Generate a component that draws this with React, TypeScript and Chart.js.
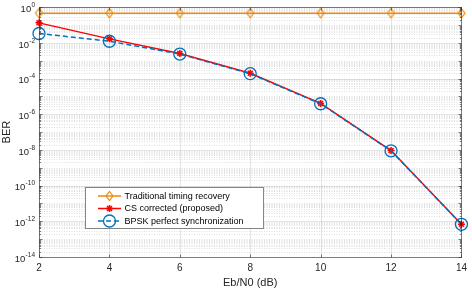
import React, { useEffect, useRef } from "react";
import { Chart, registerables } from "chart.js";

Chart.register(...registerables);

// ---- data ----
const ebn0 = [2, 4, 6, 8, 10, 12, 14];
const traditional = [0.47, 0.47, 0.47, 0.47, 0.47, 0.47, 0.47];
const csCorrected = [0.134, 0.017, 0.0026, 2.0e-4, 4.1e-6, 9.3e-9, 6.9e-13];
const bpskPerfect = [0.034, 0.0125, 0.0024, 1.9e-4, 3.9e-6, 9.0e-9, 6.8e-13];
const xTickValues = [2, 4, 6, 8, 10, 12, 14];
const yLabelExponents = [0, -2, -4, -6, -8, -10, -12, -14];
const seriesLabels = [
  "Traditional timing recovery",
  "CS corrected (proposed)",
  "BPSK perfect synchronization",
];
const markerKinds = ["diamond", "star", "circle"];

const ORANGE = "#EE8A0A";
const RED = "#FF0000";
const BLUE = "#0072BD";
const TEXT = "#262626";
const FONT = '"Liberation Sans", Arial, sans-serif';

const pow10 = (e: number) => Number(`1e${e}`);

function drawMarker(ctx: CanvasRenderingContext2D, kind: string, x: number, y: number, color: string) {
  ctx.save();
  ctx.strokeStyle = color;
  ctx.setLineDash([]);
  ctx.beginPath();
  if (kind === "diamond") {
    ctx.lineWidth = 1.2;
    ctx.moveTo(x, y - 4.5);
    ctx.lineTo(x + 3.5, y);
    ctx.lineTo(x, y + 4.5);
    ctx.lineTo(x - 3.5, y);
    ctx.closePath();
  } else if (kind === "star") {
    ctx.lineWidth = 1.5;
    const r = 3.5;
    for (let k = 0; k < 4; k++) {
      const a = (k * Math.PI) / 4;
      ctx.moveTo(x - Math.cos(a) * r, y - Math.sin(a) * r);
      ctx.lineTo(x + Math.cos(a) * r, y + Math.sin(a) * r);
    }
  } else {
    ctx.lineWidth = 1.3;
    ctx.arc(x, y, 6, 0, Math.PI * 2);
  }
  ctx.stroke();
  ctx.restore();
}

function makeDiamond(color: string): HTMLCanvasElement {
  const c = document.createElement("canvas");
  c.width = 11;
  c.height = 13;
  const g = c.getContext("2d") as CanvasRenderingContext2D;
  drawMarker(g, "diamond", 5.5, 6.5, color);
  return c;
}

const matlabPlugin = {
  id: "matlabDecor",
  beforeDraw(chart: any) {
    const { ctx } = chart;
    ctx.save();
    ctx.fillStyle = "#ffffff";
    ctx.fillRect(0, 0, chart.width, chart.height);
    ctx.restore();
  },
  beforeDatasetsDraw(chart: any) {
    const { ctx, chartArea, scales } = chart;
    const { left, right, top, bottom } = chartArea;
    const x = scales.x;
    const y = scales.y;
    ctx.save();
    ctx.beginPath();
    ctx.rect(left, top, right - left, bottom - top);
    ctx.clip();
    // minor y grid (dotted)
    ctx.lineWidth = 1;
    ctx.strokeStyle = "rgba(38,38,38,0.14)";
    ctx.setLineDash([1, 1.5]);
    for (let e = -14; e < 0; e++) {
      for (let m = 1; m <= 9; m++) {
        if (m === 1 && e % 2 === 0) continue;
        const py = Math.round(y.getPixelForValue(m * pow10(e))) + 0.5;
        ctx.beginPath();
        ctx.moveTo(left, py);
        ctx.lineTo(right, py);
        ctx.stroke();
      }
    }
    // major grid (solid)
    ctx.setLineDash([]);
    ctx.strokeStyle = "rgba(38,38,38,0.12)";
    for (const e of yLabelExponents) {
      const py = Math.round(y.getPixelForValue(pow10(e))) + 0.5;
      ctx.beginPath();
      ctx.moveTo(left, py);
      ctx.lineTo(right, py);
      ctx.stroke();
    }
    for (const v of xTickValues) {
      const px = Math.round(x.getPixelForValue(v)) + 0.5;
      ctx.beginPath();
      ctx.moveTo(px, top);
      ctx.lineTo(px, bottom);
      ctx.stroke();
    }
    ctx.restore();
  },
  afterDatasetsDraw(chart: any) {
    const { ctx, chartArea, scales } = chart;
    const { left, right, top, bottom } = chartArea;
    const x = scales.x;
    const y = scales.y;
    ctx.save();
    // frame
    ctx.strokeStyle = "rgba(38,38,38,0.6)";
    ctx.lineWidth = 1;
    ctx.setLineDash([]);
    const L = Math.round(left) + 0.5;
    const R = Math.round(right) + 0.5;
    const T = Math.round(top) + 0.5;
    const B = Math.round(bottom) + 0.5;
    ctx.strokeRect(L, T, R - L, B - T);
    // inward ticks
    ctx.beginPath();
    for (const v of xTickValues) {
      const px = Math.round(x.getPixelForValue(v)) + 0.5;
      ctx.moveTo(px, B);
      ctx.lineTo(px, B - 3);
      ctx.moveTo(px, T);
      ctx.lineTo(px, T + 3);
    }
    for (let e = -14; e <= 0; e++) {
      for (let m = 1; m <= 9; m++) {
        const v = m * pow10(e);
        if (v > 1) break;
        const py = Math.round(y.getPixelForValue(v)) + 0.5;
        const len = m === 1 ? 3 : 1.5;
        ctx.moveTo(L, py);
        ctx.lineTo(L + len, py);
        ctx.moveTo(R, py);
        ctx.lineTo(R - len, py);
      }
    }
    ctx.stroke();
    // y tick labels 10^e
    ctx.fillStyle = TEXT;
    ctx.textBaseline = "middle";
    for (const e of yLabelExponents) {
      const py = y.getPixelForValue(pow10(e));
      const expText = String(e);
      ctx.font = `6.5px ${FONT}`;
      const we = ctx.measureText(expText).width;
      const ex = 35 - we;
      ctx.textAlign = "left";
      ctx.fillText(expText, ex, py - 2);
      ctx.font = `9.5px ${FONT}`;
      ctx.textAlign = "right";
      ctx.fillText("10", ex - 0.2, py + 2);
    }
    // legend
    const bx = 85.5, by = 187.5, bw = 178, bh = 41;
    ctx.fillStyle = "#ffffff";
    ctx.fillRect(bx, by, bw, bh);
    ctx.strokeStyle = "rgba(38,38,38,0.55)";
    ctx.lineWidth = 1;
    ctx.strokeRect(bx, by, bw, bh);
    const ds = chart.data.datasets;
    const rows = [196, 208.5, 221];
    ctx.font = `9px ${FONT}`;
    ctx.textAlign = "left";
    ctx.textBaseline = "middle";
    ds.forEach((d: any, i: number) => {
      const ry = rows[i];
      ctx.save();
      ctx.strokeStyle = d.borderColor;
      ctx.lineWidth = d.borderWidth;
      ctx.setLineDash(d.borderDash || []);
      ctx.beginPath();
      ctx.moveTo(98, ry);
      ctx.lineTo(121, ry);
      ctx.stroke();
      ctx.restore();
      drawMarker(ctx, markerKinds[i], 109.5, ry, d.borderColor);
      ctx.fillStyle = "#000000";
      ctx.fillText(d.label, 124.5, ry + 0.5);
    });
    ctx.restore();
  },
};

export default function App() {
  const canvasRef = useRef<HTMLCanvasElement | null>(null);

  useEffect(() => {
    document.body.style.margin = "0";
    const canvas = canvasRef.current;
    if (!canvas) return;
    const toPts = (arr: number[]) => ebn0.map((xv, i) => ({ x: xv, y: arr[i] }));
    const chart = new Chart(canvas, {
      type: "line",
      data: {
        datasets: [
          {
            label: seriesLabels[0],
            data: toPts(traditional),
            borderColor: ORANGE,
            backgroundColor: "rgba(0,0,0,0)",
            borderWidth: 1.5,
            pointStyle: makeDiamond(ORANGE),
            pointRadius: 5,
            clip: false,
            order: 2,
          },
          {
            label: seriesLabels[1],
            data: toPts(csCorrected),
            borderColor: RED,
            backgroundColor: "rgba(0,0,0,0)",
            borderWidth: 1.5,
            pointStyle: "star",
            pointRadius: 3.5,
            pointBorderColor: RED,
            pointBackgroundColor: RED,
            pointBorderWidth: 1.5,
            clip: false,
            order: 1,
          },
          {
            label: seriesLabels[2],
            data: toPts(bpskPerfect),
            borderColor: BLUE,
            backgroundColor: "rgba(0,0,0,0)",
            borderWidth: 1.5,
            borderDash: [5, 3],
            pointStyle: "circle",
            pointRadius: 6,
            pointBorderColor: BLUE,
            pointBackgroundColor: "rgba(0,0,0,0)",
            pointBorderWidth: 1.3,
            clip: false,
            order: 0,
          },
        ] as any,
      },
      options: {
        responsive: false,
        animation: false,
        events: [],
        layout: { padding: { left: 0, right: 7, top: 5, bottom: 0 } },
        plugins: {
          legend: { display: false },
          tooltip: { enabled: false },
        },
        scales: {
          x: {
            type: "linear",
            min: 2,
            max: 14,
            afterBuildTicks: (s: any) => {
              s.ticks = xTickValues.map((v) => ({ value: v }));
            },
            ticks: {
              color: TEXT,
              font: { family: FONT, size: 10 },
              padding: 5,
              maxRotation: 0,
            },
            grid: { display: false, drawTicks: false },
            border: { display: false },
            title: {
              display: true,
              text: "Eb/N0 (dB)",
              color: TEXT,
              font: { family: FONT, size: 11 },
              padding: { top: 0, bottom: -2 },
            },
            afterFit: (s: any) => {
              s.height = 31;
            },
          },
          y: {
            type: "logarithmic",
            min: 1e-14,
            max: 1,
            ticks: { display: false },
            grid: { display: false, drawTicks: false },
            border: { display: false },
            title: {
              display: true,
              text: "BER",
              color: TEXT,
              font: { family: FONT, size: 11 },
              padding: { top: 0, bottom: 0 },
            },
            afterFit: (s: any) => {
              s.width = 39;
            },
          },
        },
      } as any,
      plugins: [matlabPlugin],
    });
    return () => chart.destroy();
  }, []);

  return (
    <div style={{ width: 472, height: 288 }}>
      <canvas ref={canvasRef} width={472} height={288} style={{ display: "block" }} />
    </div>
  );
}
